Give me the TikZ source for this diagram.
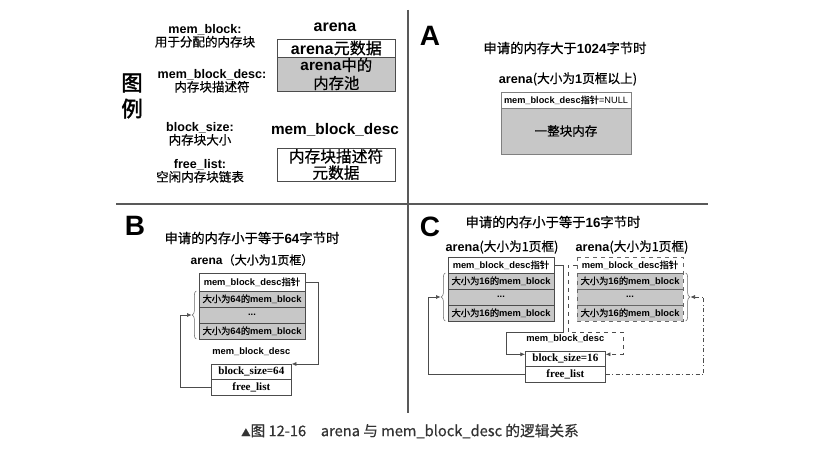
\documentclass[tikz,border=0pt]{standalone}
\usepackage{fontspec}
\setmainfont{Liberation Sans}
\newfontfamily\zhfont[FakeBold=0.6]{Noto Sans CJK SC}
\newfontfamily\zhbold[FakeBold=2]{Noto Sans CJK SC}
\newfontfamily\timesfont{Liberation Serif}
\newcommand\zhtext[1]{{\zhfont\mdseries #1}}
\usetikzlibrary{positioning,arrows.meta,decorations.pathreplacing}

\begin{document}
\begin{tikzpicture}[x=0.75pt,y=-0.75pt,
  >={Latex[length=3.5pt,width=3pt]},
  boxline/.style={draw=black!70, line width=0.6pt, inner sep=0pt, outer sep=0pt},
  desc/.style={boxline, fill=white, minimum width=79.5pt, minimum height=12pt, font=\fontsize{7}{8}\selectfont\bfseries},
  blk/.style={desc, fill=black!22},
  sizebox/.style={boxline, fill=white, minimum width=60.5pt, minimum height=11.75pt, font=\timesfont\bfseries\fontsize{8.3}{9}\selectfont},
  link/.style={->, draw=black!70, line width=0.5pt},
  bracestyle/.style={decorate, decoration={brace, amplitude=3pt}, draw=black!60, line width=0.4pt},
  legtext/.style={align=center, font=\fontsize{9.4}{9.8}\selectfont},
  heading/.style={font=\fontsize{10}{12}\selectfont},
  panel/.style={font=\fontsize{21}{24}\selectfont\bfseries},
  divider/.style={draw=black!65, line width=1.5pt}]
  \useasboundingbox (0,0) rectangle (832,463);

  \draw[divider] (408,10) -- (408,413);
  \draw[divider] (116,204) -- (708,204);

  % legend
  \node[font=\zhbold\fontsize{16}{19.5}\selectfont, align=center] (Ltitle) at (132,96) {图\\例};
  \node[legtext] (Lblock) at (205,36) {\textbf{mem\_block:}\\\zhtext{用于分配的内存块}};
  \node[legtext] (Ldesc) at (212,81) {\textbf{mem\_block\_desc:}\\\zhtext{内存块描述符}};
  \node[legtext] (Lsize) at (200,134) {\textbf{block\_size:}\\\zhtext{内存块大小}};
  \node[legtext] (Lfree) at (200,171) {\textbf{free\_list:}\\\zhtext{空闲内存块链表}};

  \node[font=\bfseries\fontsize{12}{14}\selectfont] (Larena) at (335,27) {arena};
  \node[boxline, fill=white, anchor=north west, minimum width=89pt, minimum height=13.5pt, font=\fontsize{12}{13}\selectfont] (Lmeta) at (277,39) {\textbf{arena}\zhtext{元数据}};
  \node[boxline, fill=black!22, below=0pt of Lmeta, minimum width=89pt, minimum height=25.5pt, align=center, font=\fontsize{11.5}{13.5}\selectfont] (Lpool) {\textbf{arena}\zhtext{中的}\\\zhtext{内存池}};
  \node[font=\bfseries\fontsize{11.5}{13}\selectfont] (Ldescname) at (335,130) {mem\_block\_desc};
  \node[boxline, anchor=north west, minimum width=88.5pt, minimum height=24.75pt, align=center, font=\fontsize{11.8}{12.2}\selectfont] (Ldescbox) at (277,148) {\zhtext{内存块描述符}\\\zhtext{元数据}};

  % A
  \node[panel] (A) at (430,36) {A};
  \node[heading] (Atitle) at (565,48) {\zhtext{申请的内存大于}\textbf{1024}\zhtext{字节时}};
  \node[font=\fontsize{9.5}{11}\selectfont] (Aname) at (568,79) {\textbf{arena}\zhtext{(大小为}\textbf{1}\zhtext{页框以上)}};
  \node[boxline, draw=black!50, fill=white, anchor=north west, minimum width=97.5pt, minimum height=12pt, font=\fontsize{6.9}{8}\selectfont] (Adesc) at (501,92) {\textbf{mem\_block\_desc}\zhtext{指针}=NULL};
  \node[boxline, draw=black!50, fill=black!22, below=0pt of Adesc, minimum width=97.5pt, minimum height=34.5pt, font=\fontsize{9.4}{11}\selectfont] (Abody) {\zhtext{一整块内存}};

  % B
  \node[panel] (B) at (135,226) {B};
  \node[heading] (Btitle) at (252,238) {\zhtext{申请的内存小于等于}\textbf{64}\zhtext{字节时}};
  \node[font=\fontsize{9}{11}\selectfont] (Bname) at (252,260) {\textbf{arena}\zhtext{（大小为1页框）}};
  \node[desc, anchor=north west, minimum height=13.5pt] (Bdesc) at (199,273) {mem\_block\_desc\zhtext{指针}};
  \node[blk, below=0pt of Bdesc] (Brow1) {\zhtext{大小为}64\zhtext{的}mem\_block};
  \node[blk, below=0pt of Brow1] (Brow2) {...};
  \node[blk, below=0pt of Brow2] (Brow3) {\zhtext{大小为}64\zhtext{的}mem\_block};
  \node[sizebox, anchor=north west] (Bsize) at (211,364) {block\_size=64};
  \node[sizebox, below=0pt of Bsize] (Bfree) {free\_list};
  \node[font=\bfseries\fontsize{7}{8}\selectfont, above=3pt of Bsize] (Bdescname) {mem\_block\_desc};

  \draw[bracestyle] ([xshift=-2pt]Brow3.south west) -- ([xshift=-2pt]Brow1.north west);
  \coordinate (Bbrace) at ([xshift=-5.5pt]Brow2.west);
  \draw[link] (Bdesc.east) -- ++(13,0) |- (Bsize.north east);
  \draw[link] (Bfree.west) -- ++(-31,0) |- (Bbrace);

  % C
  \node[panel] (C) at (430,227) {C};
  \node[heading] (Ctitle) at (553,222) {\zhtext{申请的内存小于等于}\textbf{16}\zhtext{字节时}};
  \node[font=\fontsize{9.5}{11}\selectfont] (Clname) at (502,247) {\textbf{arena}\zhtext{(大小为1页框)}};
  \node[font=\fontsize{9.5}{11}\selectfont] (Crname) at (632,247) {\textbf{arena}\zhtext{(大小为1页框)}};

  \node[desc, anchor=north west] (Cldesc) at (448,257) {mem\_block\_desc\zhtext{指针}};
  \node[blk, below=0pt of Cldesc] (Clrow1) {\zhtext{大小为}16\zhtext{的}mem\_block};
  \node[blk, below=0pt of Clrow1] (Clrow2) {...};
  \node[blk, below=0pt of Clrow2] (Clrow3) {\zhtext{大小为}16\zhtext{的}mem\_block};

  \node[desc, draw=none, anchor=north west] (Crdesc) at (577,257) {mem\_block\_desc\zhtext{指针}};
  \node[blk, draw=none, below=0pt of Crdesc] (Crrow1) {\zhtext{大小为}16\zhtext{的}mem\_block};
  \node[blk, draw=none, below=0pt of Crrow1] (Crrow2) {...};
  \node[blk, draw=none, below=0pt of Crrow2] (Crrow3) {\zhtext{大小为}16\zhtext{的}mem\_block};
  \draw[black!60, line width=0.6pt, dashed] (Crdesc.north west) rectangle (Crrow3.south east);
  \foreach \r in {Crrow1,Crrow2,Crrow3}
    \draw[black!60, line width=0.6pt] (\r.north west) -- (\r.north east);

  \node[sizebox, anchor=north west] (Csize) at (525,351) {block\_size=16};
  \node[sizebox, below=0pt of Csize] (Cfree) {free\_list};
  \node[font=\bfseries\fontsize{7}{8}\selectfont, above=3pt of Csize] (Cdescname) {mem\_block\_desc};

  \draw[bracestyle] ([xshift=-2pt]Clrow3.south west) -- ([xshift=-2pt]Clrow1.north west);
  \draw[bracestyle] ([xshift=2pt]Crrow1.north east) -- ([xshift=2pt]Crrow3.south east);
  \coordinate (Clbrace) at ([xshift=-5.5pt]Clrow2.west);
  \coordinate (Crbrace) at ([xshift=5.5pt]Crrow2.east);
  \coordinate (Cbendl) at (506,332);
  \coordinate (Cbendr) at (623,332);

  \draw[link] (Cldesc.east) -- ++(9,0) |- (Cbendl) |- ([yshift=-2.5pt]Csize.north west);
  \draw[link, dashed] (Crdesc.west) -- ++(-9,0) |- (Cbendr) |- ([yshift=-2.5pt]Csize.north east);
  \draw[link] (Cfree.west) -- ++(-97,0) |- (Clbrace);
  \draw[link, dash dot] (Cfree.east) -- ++(98,0) |- (Crbrace);

  \node[font=\zhfont\fontsize{11}{13}\selectfont, text=black!80] (cap) at (410,431) {{\fontsize{7}{8}\selectfont ▲}图 12-16\quad arena 与 mem\_block\_desc 的逻辑关系};
\end{tikzpicture}
\end{document}
